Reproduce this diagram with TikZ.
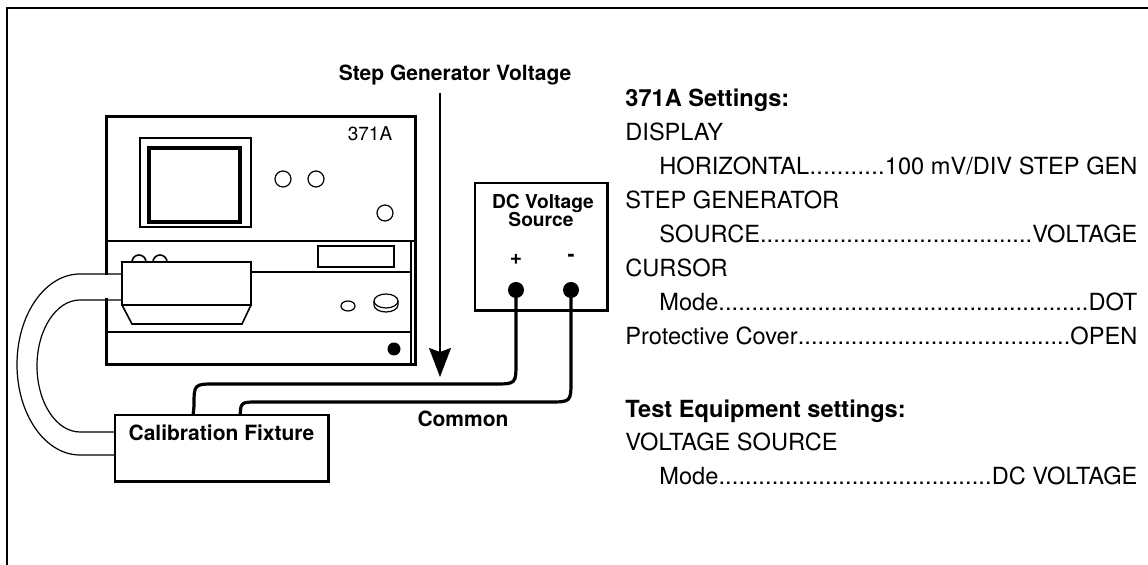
\documentclass[tikz,border=0pt]{standalone}
\usepackage{fontspec}
\setmainfont{TeX Gyre Heros}
\usetikzlibrary{arrows.meta}

\newcommand{\setfont}{\fontsize{11.8}{14}\selectfont}
\newcommand{\tagfont}{\bfseries\fontsize{10.5}{12.6}\selectfont}
% a settings row: name, dot leaders, value
\newcommand{\dotrow}[3]{\hbox to #1{#2\xleaders\hbox{.}\hfill#3}}

\tikzset{
  edge/.style={line width=1.3pt},
  panel/.style={line width=0.8pt},
  part/.style={line width=0.6pt},
  wire/.style={line width=1.6pt, line cap=round},
  cable/.style={line width=0.6pt},
  tag/.style={font=\tagfont, inner sep=1pt},
  srctag/.style={font=\bfseries\fontsize{9.6}{11}\selectfont, inner sep=0.5pt},
  setting/.style={font=\setfont, anchor=base west, inner sep=0pt},
  heading/.style={setting, font=\bfseries\setfont},
  terminal/.style={circle, fill, inner sep=0pt, minimum size=8pt},
  srcbox/.style={draw, line width=0.9pt, minimum width=66pt, minimum height=63.5pt},
  fixbox/.style={draw, line width=0.8pt, fill=white, minimum width=106.5pt, minimum height=33pt},
}

\begin{document}
\begin{tikzpicture}[x=0.5pt,y=-0.5pt]
  \useasboundingbox (0,0) rectangle (1148,565);
  % page frame
  \draw[edge] (7,565) -- (7,8) -- (1148,8);

  % 371A curve tracer
  \draw[line width=1.5pt] (106,117) rectangle (415,365);
  \draw[panel] (106,241) -- (415,241);
  \draw[panel] (411,241) -- (411,365);
  \draw[panel] (251,272) -- (411,272);
  \draw[panel] (106,332) -- (411,332);
  \node[anchor=base, font=\fontsize{9.5}{11}\selectfont] (model) at (370,141) {371A};
  % crt
  \draw[part] (140,138) rectangle (251,227);
  \draw[line width=1.4pt] (251,139) -- (251,227) -- (141,227);
  \draw[line width=1.8pt] (149,148) rectangle (240,222);
  % knobs
  \draw[part] (283,179) circle[radius=8];
  \draw[part] (316,179) circle[radius=8];
  \draw[part] (385,213) circle[radius=8];
  \draw[part] (318,246) rectangle (394,267);
  \draw[part] (348,306) ellipse[x radius=7, y radius=5];
  \draw[part] (386,301) ellipse[x radius=12, y radius=7];
  \draw[part] (374,301) -- (374,305) arc[start angle=180, end angle=0, x radius=12, y radius=7] -- (398,301);
  \fill (394,349) circle[radius=6.5];

  % cable loop to the fixture
  \fill[white] (100,275.5) rectangle (121.5,298.5);
  \draw[cable] (122,274) -- (80,274) arc[start angle=270, end angle=90, x radius=63, y radius=90.5] -- (115,455);
  \draw[cable] (122,300) -- (80,300) arc[start angle=270, end angle=90, x radius=43, y radius=66] -- (115,432);

  % fixture adapter
  \draw[panel, fill=white] (122,262) rectangle (251,305);
  \draw[panel] (122,305) -- (132,324) -- (242,324) -- (251,305);
  \draw[panel] (132,262) arc[start angle=180, end angle=360, radius=7];
  \draw[panel] (153,262) arc[start angle=180, end angle=360, radius=7];

  % calibration fixture
  \node[fixbox] (fix) at (221.5,448) {};
  \draw[line width=1.3pt] (fix.north east) -- (fix.south east) -- (fix.south west);
  \node[tag, anchor=base] (fixlbl) at (221.5,441) {Calibration Fixture};
  \coordinate (pinA) at ([xshift=39.5pt]fix.north west);
  \coordinate (pinB) at ([xshift=63pt]fix.north west);

  % dc voltage source
  \node[srcbox] (src) at (541,246.5) {};
  \draw[line width=1.4pt] (src.north east) -- (src.south east) -- (src.south west);
  \node[srctag, anchor=base] (srclbl) at (543,209) {DC Voltage};
  \node[srctag, anchor=base] at (541,227) {Source};
  \node[tag] at (516,259) {+};
  \node[tag] at (571,258) {-};
  \node[terminal] (plus) at (516,290) {};
  \node[terminal] (minus) at (571,290) {};

  % leads
  \draw[wire] (plus.center) -- (516,362) .. controls (516,384) .. (494,384)
    -- (216,384) .. controls (194,384) .. (194,406) -- (pinA);
  \draw[wire] (minus.center) -- (571,380) .. controls (571,402) .. (549,402)
    -- (260,402) .. controls (241,402) .. (pinB);
  \node[tag, anchor=base] (common) at (463,427) {Common};

  % step generator arrow
  \node[tag, anchor=base] (sgv) at (455,81) {Step Generator Voltage};
  \coordinate (sgtop) at (440,93);
  \coordinate (sgtip) at (440,377);
  \draw[line width=0.7pt, -{Stealth[length=14.5pt, width=11pt, inset=2pt]}] (sgtop) -- (sgtip);

  % settings
  \node[heading] (hd371) at (625,107) {371A Settings:};
  \node[setting] (disp) at (625,141) {DISPLAY};
  \node[setting] (horiz) at (659,175) {\dotrow{239pt}{HORIZONTAL}{100 mV/DIV STEP GEN}};
  \node[setting] (stepgen) at (625,209) {STEP GENERATOR};
  \node[setting] (source) at (659,243) {\dotrow{239pt}{SOURCE}{VOLTAGE}};
  \node[setting] (cursor) at (625,277) {CURSOR};
  \node[setting] (cmode) at (659,311) {\dotrow{239pt}{Mode}{DOT}};
  \node[setting] (cover) at (625,345) {\dotrow{256pt}{Protective Cover}{OPEN}};
  \node[heading] (hdtest) at (625,418) {Test Equipment settings:};
  \node[setting] (vsrc) at (625,451) {VOLTAGE SOURCE};
  \node[setting] (vmode) at (659,485) {\dotrow{239pt}{Mode}{DC VOLTAGE}};
\end{tikzpicture}
\end{document}
